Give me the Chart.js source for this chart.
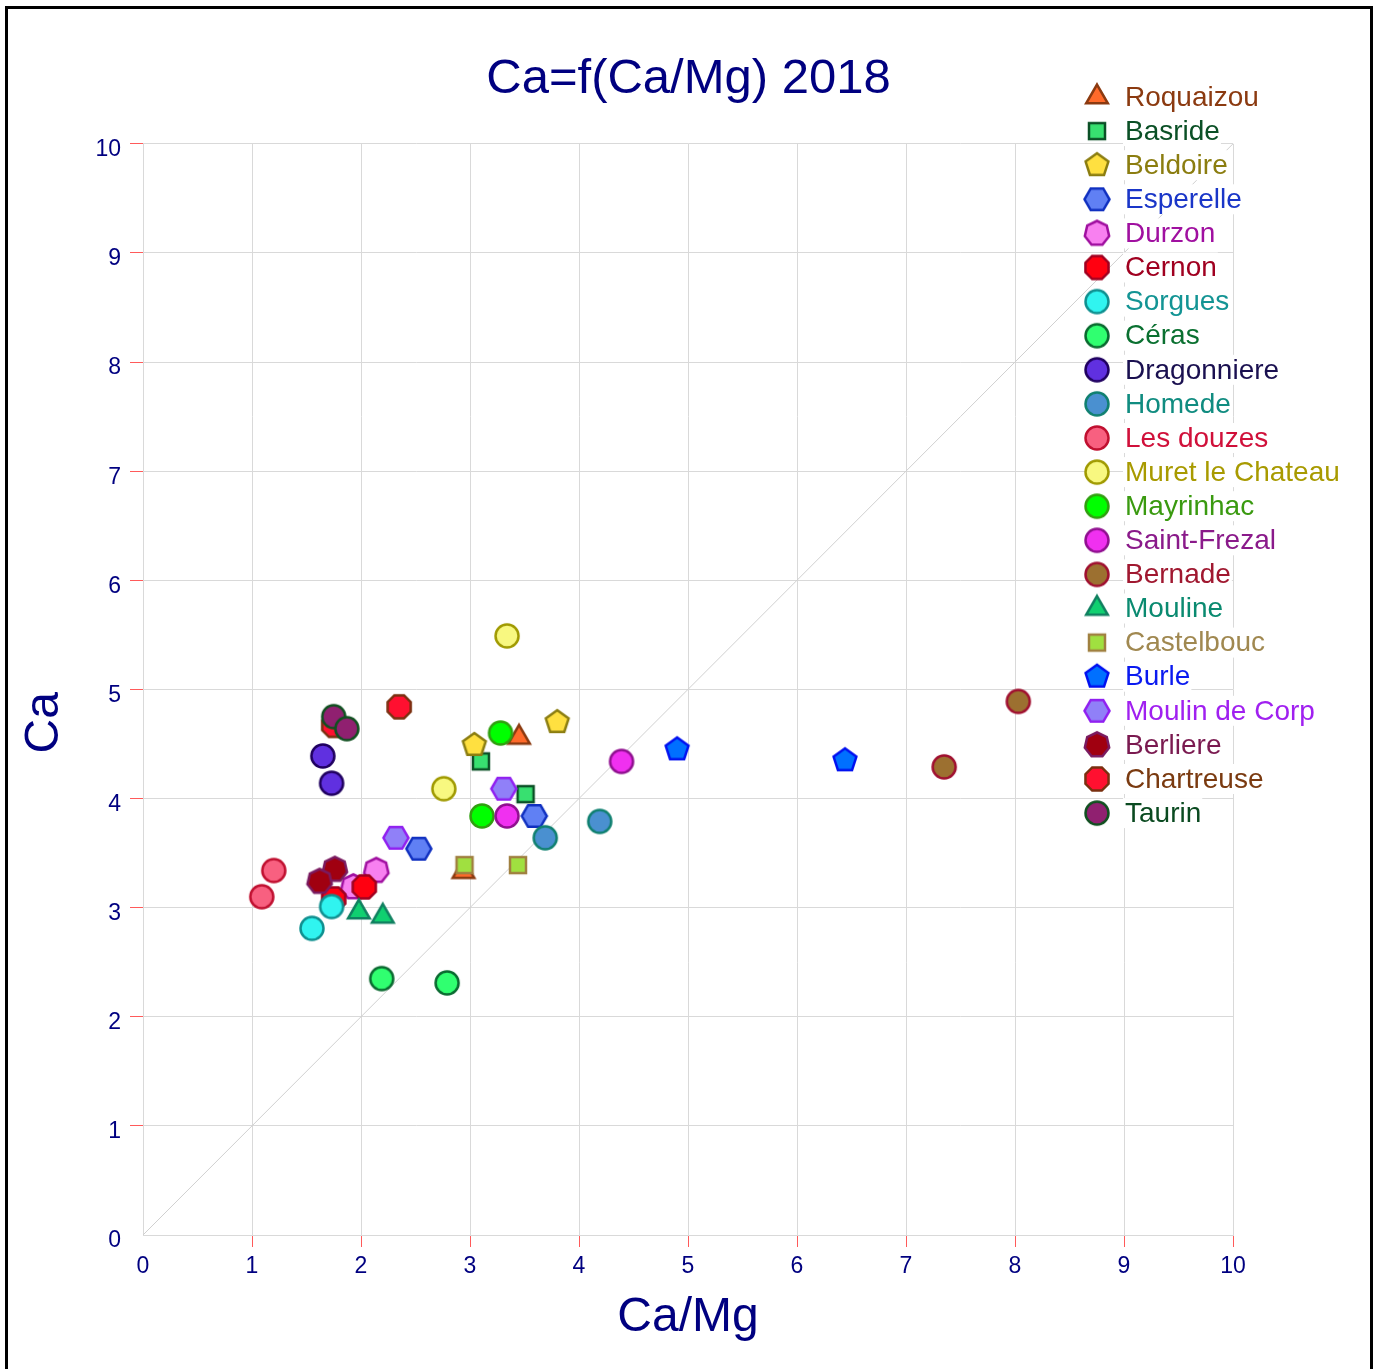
<!DOCTYPE html>
<html>
<head>
<meta charset="utf-8">
<title>Ca=f(Ca/Mg) 2018</title>
<script src="https://cdn.jsdelivr.net/npm/chart.js@4/dist/chart.umd.min.js"></script>
<style>
  html, body { margin: 0; padding: 0; background: #fff; }
  #chart { display: block; }
</style>
</head>
<body>
<canvas id="chart" width="1377" height="1369"></canvas>
<script>
// Données : deux prélèvements par station
const seriesNames = [
  "Roquaizou", "Basride", "Beldoire", "Esperelle", "Durzon", "Cernon",
  "Sorgues", "Céras", "Dragonniere", "Homede", "Les douzes",
  "Muret le Chateau", "Mayrinhac", "Saint-Frezal", "Bernade", "Mouline",
  "Castelbouc", "Burle", "Moulin de Corp", "Berliere", "Chartreuse", "Taurin",
];
const caMgValues = [
  [3.45, 2.94], [3.10, 3.51], [3.04, 3.80], [3.59, 2.53], [2.14, 1.93], [2.03, 1.75],
  [1.73, 1.55], [2.19, 2.79], [1.65, 1.73], [3.69, 4.19], [1.20, 1.09],
  [3.34, 2.76], [3.28, 3.11], [3.34, 4.39], [7.35, 8.03], [1.98, 2.20],
  [2.95, 3.44], [4.90, 6.44], [3.31, 2.32], [1.76, 1.62], [2.35, 1.75], [1.75, 1.87],
];
const caValues = [
  [4.56, 3.33], [4.34, 4.04], [4.49, 4.70], [3.84, 3.54], [3.34, 3.19], [3.19, 3.08],
  [3.01, 2.81], [2.35, 2.31], [4.39, 4.14], [3.64, 3.79], [3.34, 3.10],
  [5.49, 4.09], [4.60, 3.84], [3.84, 4.34], [4.29, 4.89], [2.96, 2.92],
  [3.39, 3.39], [4.45, 4.35], [4.09, 3.64], [3.35, 3.24], [4.84, 4.67], [4.75, 4.64],
];
const axisTicks = [0, 1, 2, 3, 4, 5, 6, 7, 8, 9, 10];
const diagonal = [0, 10];

// Styles des marqueurs : forme, remplissage, contour, couleur du texte de légende
const markerStyles = [
  { shape: "triangle", fill: "#ff6a2a", stroke: "#8b3a10", text: "#8b3a10" },
  { shape: "square",   fill: "#38e070", stroke: "#0b5026", text: "#0b5026" },
  { shape: "pentagon", fill: "#ffe040", stroke: "#8b7d10", text: "#8b7d10" },
  { shape: "hexagon",  fill: "#6080f4", stroke: "#1030c0", text: "#1a36c8" },
  { shape: "heptagon", fill: "#f880f0", stroke: "#a010a0", text: "#a010a0" },
  { shape: "octagon",  fill: "#ff0010", stroke: "#a00020", text: "#a00020" },
  { shape: "circle",   fill: "#30f4f0", stroke: "#109090", text: "#139494" },
  { shape: "circle",   fill: "#30ff70", stroke: "#0a6a30", text: "#0a7030" },
  { shape: "circle",   fill: "#6030e0", stroke: "#200060", text: "#1a1050" },
  { shape: "circle",   fill: "#4a90d0", stroke: "#108070", text: "#108c80" },
  { shape: "circle",   fill: "#f86080", stroke: "#c01030", text: "#d0103a" },
  { shape: "circle",   fill: "#f8f880", stroke: "#a09a00", text: "#a89a00" },
  { shape: "circle",   fill: "#00ff00", stroke: "#30a010", text: "#3a9a10" },
  { shape: "circle",   fill: "#f030f0", stroke: "#901090", text: "#8a1a8a" },
  { shape: "circle",   fill: "#9c7030", stroke: "#a01030", text: "#a01830" },
  { shape: "triangle", fill: "#10d070", stroke: "#108060", text: "#0a8a70" },
  { shape: "square",   fill: "#a0e040", stroke: "#a08040", text: "#a08850" },
  { shape: "pentagon", fill: "#0070ff", stroke: "#0010f0", text: "#0a1af0" },
  { shape: "hexagon",  fill: "#9080f8", stroke: "#9020f0", text: "#a020f0" },
  { shape: "heptagon", fill: "#a00010", stroke: "#7a1a60", text: "#7a1a50" },
  { shape: "octagon",  fill: "#ff1030", stroke: "#7a3010", text: "#7a3a10" },
  { shape: "circle",   fill: "#902070", stroke: "#105020", text: "#0a4a20" },
];

const NAVY = "#000080";
const FONT = "'Liberation Sans', Arial, sans-serif";

// Dessine un marqueur dans un petit canvas, utilisé comme pointStyle
function makeMarker(style) {
  const size = 32;
  const c = document.createElement("canvas");
  c.width = size;
  c.height = size;
  const g = c.getContext("2d");
  const m = size / 2;
  g.fillStyle = style.fill;
  g.strokeStyle = style.stroke;
  g.lineWidth = 2.5;
  g.beginPath();

  const polygon = (n, r, rot) => {
    for (let k = 0; k < n; k++) {
      const a = rot + (k * 2 * Math.PI) / n - Math.PI / 2;
      const px = m + r * Math.cos(a);
      const py = m + r * Math.sin(a);
      if (k === 0) g.moveTo(px, py);
      else g.lineTo(px, py);
    }
  };

  switch (style.shape) {
    case "circle":
      g.arc(m, m, 11.5, 0, Math.PI * 2);
      break;
    case "square":
      g.rect(m - 8, m - 8, 16, 16);
      break;
    case "triangle":
      polygon(3, 12.5, 0);
      break;
    case "pentagon":
      polygon(5, 12, 0);
      break;
    case "hexagon":
      polygon(6, 12.5, Math.PI / 2);
      break;
    case "heptagon":
      polygon(7, 12.5, 0);
      break;
    case "octagon":
      polygon(8, 12.5, Math.PI / 8);
      break;
  }
  g.closePath();
  g.fill();
  g.stroke();
  return c;
}

const markers = markerStyles.map(makeMarker);

const datasets = seriesNames.map((name, i) => ({
  label: name,
  data: caMgValues[i].map((x, k) => ({ x: x, y: caValues[i][k] })),
  pointStyle: markers[i],
  pointRadius: 12,
  pointHoverRadius: 12,
  backgroundColor: markerStyles[i].fill,
  borderColor: markerStyles[i].stroke,
  order: seriesNames.length - i,
}));

// Droite Ca = Ca/Mg
datasets.push({
  type: "line",
  label: "y=x",
  data: diagonal.map((v) => ({ x: v, y: v })),
  borderColor: "#d0d0d0",
  borderWidth: 1,
  pointRadius: 0,
  order: 100,
});

// Fond blanc + cadre noir
const framePlugin = {
  id: "frame",
  beforeDraw(chart) {
    const ctx = chart.ctx;
    ctx.save();
    ctx.fillStyle = "#fff";
    ctx.fillRect(0, 0, chart.width, chart.height);
    ctx.restore();
  },
  afterDraw(chart) {
    const ctx = chart.ctx;
    ctx.save();
    ctx.strokeStyle = "#000";
    ctx.lineWidth = 3;
    ctx.strokeRect(6.5, 7.5, 1365, 1420);
    ctx.restore();
  },
};

// Légende dessinée par-dessus la zone du graphique
const legendPlugin = {
  id: "overlayLegend",
  afterDatasetsDraw(chart) {
    const ctx = chart.ctx;
    ctx.save();
    ctx.font = "28px " + FONT;
    ctx.textBaseline = "middle";
    ctx.textAlign = "left";
    seriesNames.forEach((name, i) => {
      const y = 97 + i * 34.1;
      const mk = markers[i];
      ctx.drawImage(mk, 1097 - mk.width / 2, y - mk.height / 2);
      const w = ctx.measureText(name).width;
      ctx.fillStyle = "#fff";
      ctx.fillRect(1123, y - 15, w + 3, 30);
      ctx.fillStyle = markerStyles[i].text;
      ctx.fillText(name, 1125, y + 1);
    });
    ctx.restore();
  },
};

const tickColor = (c) => (c.tick && c.tick.value === 0 ? "rgba(0,0,0,0)" : "#ff5a5a");

new Chart(document.getElementById("chart"), {
  type: "scatter",
  data: { datasets: datasets },
  plugins: [framePlugin, legendPlugin],
  options: {
    responsive: false,
    animation: false,
    devicePixelRatio: 1,
    layout: { padding: 0 },
    plugins: {
      legend: { display: false },
      tooltip: { enabled: false },
      title: {
        display: true,
        text: "Ca=f(Ca/Mg) 2018",
        color: NAVY,
        font: { family: FONT, size: 49, weight: "normal" },
        padding: { top: 50, bottom: 35 },
      },
    },
    scales: {
      x: {
        type: "linear",
        min: axisTicks[0],
        max: axisTicks[axisTicks.length - 1],
        afterBuildTicks: (s) => { s.ticks = axisTicks.map((v) => ({ value: v })); },
        afterFit: (s) => { s.height = 134; },
        ticks: {
          color: NAVY,
          font: { family: FONT, size: 23 },
          padding: 6,
          maxRotation: 0,
        },
        grid: { color: "#d9d9d9", tickColor: tickColor, tickLength: 12 },
        border: { color: "#d9d9d9" },
        title: {
          display: true,
          text: "Ca/Mg",
          color: NAVY,
          font: { family: FONT, size: 48 },
          padding: { top: 0, bottom: 22 },
        },
      },
      y: {
        type: "linear",
        min: axisTicks[0],
        max: axisTicks[axisTicks.length - 1],
        afterBuildTicks: (s) => { s.ticks = axisTicks.map((v) => ({ value: v })); },
        afterFit: (s) => { s.width = 143; },
        ticks: {
          color: NAVY,
          font: { family: FONT, size: 23 },
          padding: 9,
          labelOffset: 6,
        },
        grid: { color: "#d9d9d9", tickColor: tickColor, tickLength: 13 },
        border: { color: "#d9d9d9" },
        title: {
          display: true,
          text: "Ca     ",
          color: NAVY,
          font: { family: FONT, size: 48 },
          padding: { top: 16, bottom: 0 },
        },
      },
      // axe vide à droite : réserve la place de la légende
      yRight: {
        type: "linear",
        position: "right",
        min: axisTicks[0],
        max: axisTicks[axisTicks.length - 1],
        afterFit: (s) => { s.width = 144; },
        ticks: { display: false },
        grid: { display: false, drawOnChartArea: false },
        border: { display: false },
      },
    },
  },
});
</script>
</body>
</html>
